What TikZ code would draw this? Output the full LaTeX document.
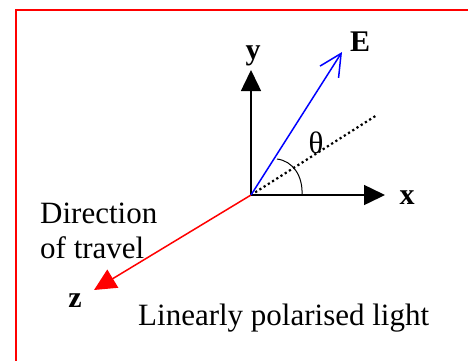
\documentclass[tikz,border=0pt]{standalone}
\usepackage{fontspec}
\setmainfont{Liberation Serif}
\usetikzlibrary{arrows.meta}

\begin{document}
\begin{tikzpicture}[
    x=1pt, y=-1pt,
    font=\fontsize{31}{35}\selectfont,
    axis/.style={line width=1.5pt, -{Triangle[length=21pt, width=20pt]}},
    field/.style={blue, line width=1.5pt,
                  -{Straight Barb[length=22pt, width=22pt, line width=1.5pt]}},
    travel/.style={red, line width=1.5pt, -{Triangle[length=22pt, width=21pt]}},
    lbl/.style={font=\fontsize{30}{35}\selectfont\bfseries, anchor=base, inner sep=0pt},
  ]
  \useasboundingbox (0,0) rectangle (468,360);
  % red frame, cut off at the right and bottom
  \begin{scope}
    \clip (0,0) rectangle (468,360);
    \draw[red, line width=1.2pt] (16,10) rectangle (480,372);
  \end{scope}

  % axes
  \coordinate (O) at (251,195);
  \coordinate (xtip) at (385,195);
  \coordinate (ytip) at (251,70);
  \coordinate (ztip) at (94,290);
  \coordinate (Etip) at (342,52);
  \coordinate (dotend) at (377,115);
  \draw[axis] (O) -- (xtip);
  \draw[axis] (O) -- (ytip);
  \draw[travel] (O) -- (ztip);

  % field vector and its plane
  \draw[black, line width=2.2pt, dash pattern=on 2.2pt off 2.8pt] (O) -- (dotend);
  \draw[field] (O) -- (Etip);
  \draw[line width=1pt] (277,159) .. controls (293,161) and (303,176) .. (302,195);

  \node[lbl] (xlab) at (407,204) {x};
  \node[lbl] (ylab) at (253,59) {y};
  \node[lbl] (zlab) at (75,307) {z};
  \node[lbl] (Elab) at (360,51) {E};
  \node[anchor=base, inner sep=0pt] (theta) at (316,153) {θ};

  \node[anchor=north west, align=left, inner sep=0pt] (dir) at (40,203)
    {Direction\\of travel};
  \node[anchor=base west, inner sep=0pt] (caption) at (138,325)
    {Linearly polarised light};
\end{tikzpicture}
\end{document}
